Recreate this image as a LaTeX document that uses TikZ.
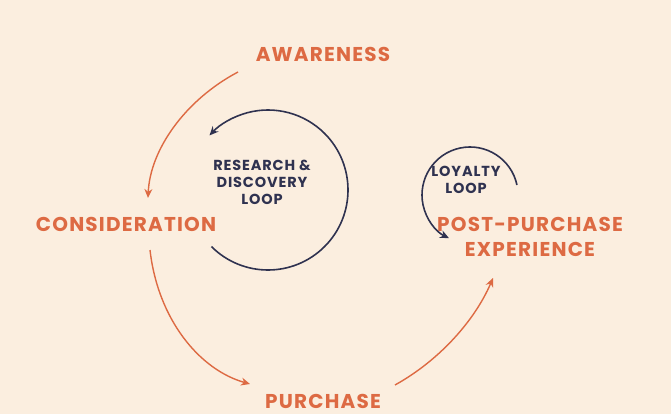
\documentclass[tikz,border=0pt]{standalone}
\usepackage{fontspec}
\setmainfont{Poppins}[LetterSpace=6]
\usetikzlibrary{arrows.meta,calc}
\definecolor{bg}{HTML}{FBEEDF}
\definecolor{org}{HTML}{DD6A43}
\definecolor{navy}{HTML}{2F3250}
\tikzset{
  big/.style={text=org,font=\fontsize{20}{25}\selectfont\bfseries,align=center},
  small/.style={text=navy,font=\fontsize{14.5}{17}\selectfont\bfseries,align=center},
  oarr/.style={draw=org,line width=1.4pt,-{Stealth[length=9pt,width=8pt]}},
  narr/.style={draw=navy,line width=1.6pt,-{Stealth[length=9pt,width=8pt]}}
}
\begin{document}
\begin{tikzpicture}[x=1pt,y=-1pt]
\fill[bg] (0,0) rectangle (671,414);
\useasboundingbox (0,0) rectangle (671,414);
\node[big] (aw) at (323,54) {AWARENESS};
\node[big] (co) at (126,224) {CONSIDERATION};
\node[big] (pu) at (323,401) {PURCHASE};
\node[big] (pp) at (530,237) {POST-PURCHASE\\EXPERIENCE};
\node[small] (rd) at (262,182) {RESEARCH \&\\DISCOVERY\\LOOP};
\node[small] (ll) at (466,180) {LOYALTY\\LOOP};
\coordinate (a1) at (238,72);
\coordinate (a2) at (148,198);
\coordinate (b1) at (150,250);
\coordinate (b2) at (250,384);
\coordinate (c1) at (395,385);
\coordinate (c2) at (493,278);
\draw[oarr] (a1) .. controls (185,100) and (150,150) .. (a2);
\draw[oarr] (b1) .. controls (158,320) and (200,370) .. (b2);
\draw[oarr] (c1) .. controls (440,360) and (475,320) .. (c2);
\coordinate (rc) at (268,190);
\draw[narr] ($(rc)+(135:80)$) arc[start angle=135,end angle=-137,radius=80];
\coordinate (lc) at (470,195);
\draw[narr] ($(lc)+(-12:48)$) arc[start angle=-12,end angle=-244,radius=48];
\end{tikzpicture}
\end{document}
